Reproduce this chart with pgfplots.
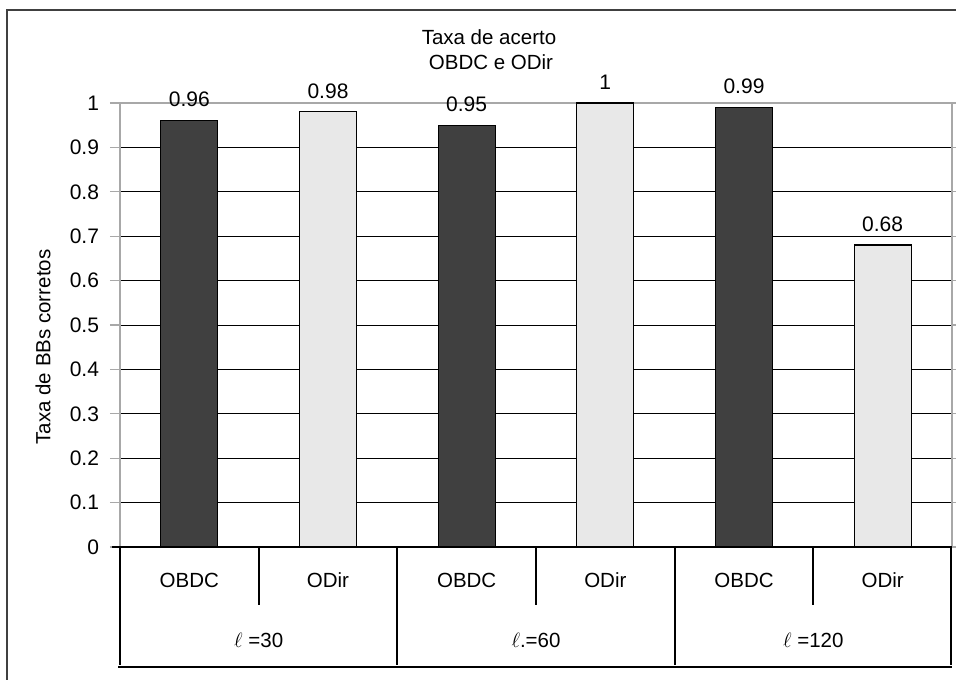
\documentclass[border=0pt]{standalone}
\usepackage{pgfplots}
\pgfplotsset{compat=1.18}
\usepackage{fontspec}
\setmainfont{Liberation Sans}
\definecolor{darkbar}{HTML}{404040}
\definecolor{lightbar}{HTML}{E8E8E8}
\definecolor{axgray}{HTML}{A8A8A8}
\newcommand\fs{\fontsize{20.5}{24}\selectfont}
\newcommand\fst{\fontsize{21}{24}\selectfont}
\begin{document}
\fs
\begin{tikzpicture}
\path[use as bounding box] (0pt,0pt) rectangle (956pt,-680pt);
\draw[line width=1.5pt, black!75] (7pt,-680pt) -- (7pt,-10pt) -- (956pt,-10pt);
\begin{axis}[
  at={(120pt,-547pt)}, anchor=south west,
  scale only axis, width=832pt, height=444pt,
  xmin=-0.5, xmax=5.5, ymin=0, ymax=1,
  ytick={0,0.1,0.2,0.3,0.4,0.5,0.6,0.7,0.8,0.9,1},
  ymajorgrids, major grid style={black, line width=0.9pt},
  axis line style={axgray, line width=1.2pt},
  tick align=outside, major tick length=10pt,
  ytick style={axgray, line width=1.2pt},
  xtick={0,1,2,3,4,5},
  xticklabels={OBDC,ODir,OBDC,ODir,OBDC,ODir},
  xtick style={draw=none},
  xticklabel style={anchor=center, yshift=-23pt, font=\fs},
  yticklabel style={font=\fst, xshift=-4pt},
  /pgf/number format/assume math mode=true,
  ybar, bar width=57pt,
  nodes near coords,
  nodes near coords style={anchor=south, inner sep=0pt, yshift=13pt, font=\fst, text=black},
  clip=false,
]
\addplot[ybar, bar shift=0pt, fill=darkbar, draw=black, line width=1.2pt] coordinates {(0,0.96) (2,0.95) (4,0.99)};
\addplot[ybar, bar shift=0pt, fill=lightbar, draw=black, line width=1.2pt] coordinates {(1,0.98) (3,1) (5,0.68)};
\end{axis}
% category table
\draw[black, line width=2pt] (112pt,-547pt) -- (952pt,-547pt);
\foreach \x in {120,397.3,674.7,951} \draw[line width=2pt] (\x pt,-547pt) -- (\x pt,-665pt);
\foreach \x in {258.7,536,813.3} \draw[line width=1.8pt] (\x pt,-547pt) -- (\x pt,-605pt);
\draw[line width=1.5pt] (118pt,-667pt) -- (952pt,-667pt);
\node at (258.7pt,-640pt) {$\ell$ =30};
\node at (536pt,-640pt) {$\ell$.=60};
\node at (813.3pt,-640pt) {$\ell$ =120};
% titles
\node at (489pt,-37pt) {Taxa de acerto};
\node at (491pt,-62pt) {OBDC e ODir};
\node[rotate=90] at (43pt,-347pt) {Taxa de BBs corretos};
\end{tikzpicture}
\end{document}
